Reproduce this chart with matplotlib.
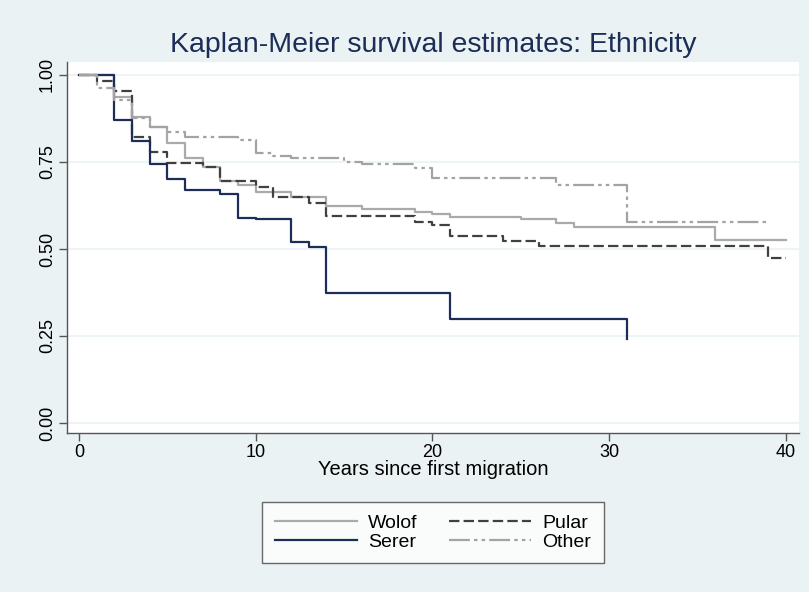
import numpy as np
import matplotlib.pyplot as plt

plt.rcParams['font.family'] = ['Liberation Sans', 'DejaVu Sans']
plt.rcParams['lines.scale_dashes'] = False

# Kaplan-Meier step estimates by ethnic group (time in years, survival)
wolof_t = [0, 2, 3, 4, 5, 6, 7, 8, 9, 10, 12, 14, 16, 19, 20, 21, 25, 27, 28, 36, 40]
wolof_s = [1.0, 0.936, 0.878, 0.850, 0.805, 0.761, 0.736, 0.695, 0.684, 0.664,
           0.650, 0.622, 0.615, 0.607, 0.600, 0.592, 0.586, 0.575, 0.564, 0.526, 0.526]

pular_t = [0, 1, 2, 3, 4, 5, 7, 8, 10, 11, 13, 14, 19, 20, 21, 24, 26, 39, 40]
pular_s = [1.0, 0.983, 0.955, 0.821, 0.779, 0.748, 0.735, 0.695, 0.677, 0.650,
           0.632, 0.594, 0.578, 0.569, 0.536, 0.523, 0.508, 0.474, 0.474]

serer_t = [0, 2, 3, 4, 5, 6, 8, 9, 10, 12, 13, 14, 21, 31]
serer_s = [1.0, 0.871, 0.810, 0.744, 0.700, 0.670, 0.657, 0.589, 0.586, 0.520,
           0.506, 0.374, 0.300, 0.240]

other_t = [0, 1, 2, 3, 4, 5, 6, 9, 10, 11, 12, 15, 16, 19, 20, 27, 31, 39]
other_s = [1.0, 0.963, 0.928, 0.877, 0.851, 0.837, 0.822, 0.813, 0.775, 0.767,
           0.761, 0.750, 0.744, 0.733, 0.704, 0.684, 0.578, 0.578]

bg = '#eaf2f3'
navy = '#1c2d57'

fig = plt.figure(figsize=(8.09, 5.92), dpi=100, facecolor=bg)
ax = fig.add_axes([67 / 809, 1 - 433 / 592, 732 / 809, 371 / 592])
ax.set_facecolor('white')

ax.step(wolof_t, wolof_s, where='post', color='#aaaaaa', lw=1.6, label='Wolof')
ax.step(serer_t, serer_s, where='post', color=navy, lw=1.6, label='Serer')
ax.step(pular_t, pular_s, where='post', color='#404040', lw=1.6,
        linestyle=(0, (7.5, 3)), label='Pular')
ax.step(other_t, other_s, where='post', color='#a3a3a3', lw=1.6,
        linestyle=(0, (15, 3, 2.5, 3, 2.5, 3)), label='Other')

# draw order: Wolof, Pular, Serer, Other on top
lines = ax.get_lines()
for z, ln in zip([2, 4, 3, 5], lines):
    ln.set_zorder(z)

ax.set_xlim(-0.68, 40.74)
ax.set_ylim(-0.0287, 1.037)
ax.set_xticks([0, 10, 20, 30, 40])
ax.set_yticks([0, 0.25, 0.5, 0.75, 1.0])
ax.set_yticklabels(['0.00', '0.25', '0.50', '0.75', '1.00'], rotation=90, va='center')
ax.grid(axis='y', color=bg, lw=1.2)
ax.set_axisbelow(True)
for side in ['top', 'right']:
    ax.spines[side].set_visible(False)
for side in ['left', 'bottom']:
    ax.spines[side].set_color('#555555')
    ax.spines[side].set_linewidth(1.0)
ax.tick_params(length=6, width=1.0, color='#555555', labelsize=13,
               labelcolor='black', pad=2)
ax.set_xlabel('Years since first migration', fontsize=14.5, labelpad=-1)

fig.text(433 / 809, 1 - 45 / 592, 'Kaplan-Meier survival estimates: Ethnicity',
         ha='center', va='center', fontsize=20.5, color=navy)

h, l = ax.get_legend_handles_labels()
leg = fig.legend(h, l, ncol=2,
                 loc='upper center', bbox_to_anchor=(433 / 809, 1 - 502 / 592),
                 fontsize=14, frameon=True, fancybox=False, handlelength=4.2,
                 columnspacing=1.6, handletextpad=0.6, borderpad=0.65,
                 labelspacing=0.05, borderaxespad=0)
leg.get_frame().set_edgecolor('#444444')
leg.get_frame().set_linewidth(1.0)
leg.get_frame().set_facecolor('white')

fig.savefig('out.png', dpi=100, facecolor=bg)
